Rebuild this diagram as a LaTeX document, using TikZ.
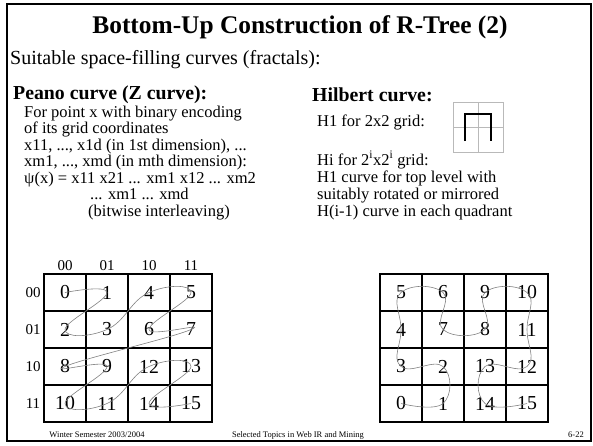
\documentclass[tikz,border=0pt]{standalone}
\usepackage{fontspec}
\setmainfont{Liberation Serif}
\usetikzlibrary{positioning}

\begin{document}
\begin{tikzpicture}[x=1pt, y=-1pt,
    heading/.style={anchor=base west, inner sep=0pt, font=\fontsize{19.8}{22}\selectfont\bfseries},
    body/.style={anchor=base west, inner sep=0pt, font=\fontsize{16.5}{18}\selectfont},
    cell/.style={draw, line width=1.2pt, minimum width=42pt, minimum height=37pt, inner sep=0pt,
        font=\fontsize{19.8}{20}\selectfont},
    bitlabel/.style={inner sep=0pt, font=\fontsize{15}{16}\selectfont},
    curve/.style={gray, line width=0.6pt},
    footer/.style={inner sep=0pt, font=\fontsize{8.5}{9}\selectfont}]
    \useasboundingbox (0,0) rectangle (593,445);

    % Slide frame and title
    \draw[line width=2pt] (7,4) rectangle (591,441);
    \node[inner sep=0pt, font=\fontsize{25.4}{28}\selectfont\bfseries] (title) at (300,27)
        {Bottom-Up Construction of R-Tree (2)};
    \node[anchor=base west, inner sep=0pt, font=\fontsize{20}{22}\selectfont] (intro) at (10,64)
        {Suitable space-filling curves (fractals):};

    % Left column: Z curve
    \node[heading] (peano) at (13,99) {Peano curve (Z curve):};
    \node[body] (l1) at (24,117) {For point x with binary encoding};
    \node[body] (l2) at (24,133.5) {of its grid coordinates};
    \node[body] (l3) at (24,150) {x11, ..., x1d (in 1st dimension), ...};
    \node[body] (l4) at (24,166.5) {xm1, ..., xmd (in mth dimension):};
    \node[body] (l5) at (24,183) {ψ(x) = x11 x21 ... xm1 x12 ... xm2};
    \node[body] (l6) at (90,199.5) {... xm1 ... xmd};
    \node[body] (l7) at (88,216) {(bitwise interleaving)};

    % Right column: Hilbert curve
    \node[heading] (hilbert) at (312,101) {Hilbert curve:};
    \node[body] (r1) at (317,126) {H1 for 2x2 grid:};
    \node[body] (r2) at (317,165) {Hi for 2\textsuperscript{i}x2\textsuperscript{i} grid:};
    \node[body] (r3) at (317,182) {H1 curve for top level with};
    \node[body] (r4) at (317,199) {suitably rotated or mirrored};
    \node[body] (r5) at (317,216) {H(i-1) curve in each quadrant};

    % Small H1 sketch
    \draw[gray!55, line width=0.8pt] (453,102) rectangle (503,152)
        (478,102) -- (478,152) (453,127) -- (503,127);
    \draw[line width=1.6pt] (465,141) -- (465,114) -- (491,114) -- (491,141);

    % Z-order grid
    \foreach \n/\c/\r in {0/0/0, 1/1/0, 4/2/0, 5/3/0, 2/0/1, 3/1/1, 6/2/1, 7/3/1,
                          8/0/2, 9/1/2, 12/2/2, 13/3/2, 10/0/3, 11/1/3, 14/2/3, 15/3/3}
        \node[cell] (z\n) at (65+42*\c, 292.5+37*\r) {\n};
    \foreach \b/\i in {00/0, 01/1, 10/2, 11/3} {
        \node[bitlabel] (zc\i) at (65+42*\i, 266) {\b};
        \node[bitlabel] (zr\i) at (33, 292.5+37*\i) {\b};
    }
    \draw[curve] plot[smooth, tension=0.8] coordinates {(z0.center) (z1.center) (z2.center)
        (z3.center) (z4.center) (z5.center) (z6.center) (z7.center) (z8.center) (z9.center)
        (z10.center) (z11.center) (z12.center) (z13.center) (z14.center) (z15.center)};

    % Hilbert grid
    \foreach \n/\c/\r in {5/0/0, 6/1/0, 9/2/0, 10/3/0, 4/0/1, 7/1/1, 8/2/1, 11/3/1,
                          3/0/2, 2/1/2, 13/2/2, 12/3/2, 0/0/3, 1/1/3, 14/2/3, 15/3/3}
        \node[cell] (h\n) at (401+42*\c, 292.5+37*\r) {\n};
    \draw[curve] plot[smooth, tension=0.8] coordinates {(h0.center) (h1.center) (h2.center)
        (h3.center) (h4.center) (h5.center) (h6.center) (h7.center) (h8.center) (h9.center)
        (h10.center) (h11.center) (h12.center) (h13.center) (h14.center) (h15.center)};

    % Footer
    \node[footer] (f1) at (97,435) {Winter Semester 2003/2004};
    \node[footer] (f2) at (298,435) {Selected Topics in Web IR and Mining};
    \node[footer] (f3) at (576,435) {6-22};
\end{tikzpicture}
\end{document}
